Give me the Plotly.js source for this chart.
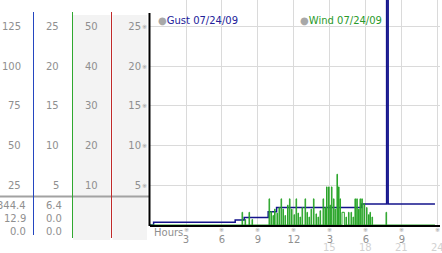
<!DOCTYPE html>
<html><head><meta charset="utf-8">
<script src="https://cdn.plot.ly/plotly-3.0.1.min.js"></script>
<style>html,body{margin:0;padding:0;background:#fff;}</style>
</head><body><div id="chart" style="width:442px;height:253px;"></div>
<script>
// ---- data ----
const gustName = 'Gust 07/24/09';
const windName = 'Wind 07/24/09';
const gustHours  = [0, 0.3, 7.1, 7.85, 9.85, 10.55, 17.65, 19.72, 19.85, 23.75];
const gustValues = [0, 1.7, 3.1, 4.8, 8.4, 11.1, 13.2, 344.4, 13.2, 13.2];
const windHours = [0, 7.67,7.72, 7.92,7.97, 8.25,8.3, 8.5,8.55, 9.92,9.97, 10.08,10.13, 10.25,10.3, 10.38,10.43,
  10.58,10.63, 10.75,10.8, 10.92,10.97, 11.08,11.13, 11.25,11.3, 11.46,11.51, 11.62,11.67, 11.79,11.84,
  12.0,12.05, 12.17,12.22, 12.33,12.38, 12.5,12.55, 12.67,12.72, 12.92,12.97, 13.08,13.13, 13.25,13.3,
  13.42,13.47, 13.62,13.67, 13.83,13.88, 14.0,14.05, 14.17,14.22, 14.42,14.47, 14.58,14.63, 14.71,14.76,
  14.88,14.93, 15.0,15.05, 15.12,15.17, 15.29,15.34, 15.42,15.47, 15.58,15.63, 15.71,15.76, 15.83,15.88,
  16.0,16.2, 16.33,16.38, 16.54,16.59, 16.75,16.8, 16.92,16.97, 17.08,17.13, 17.23,17.28, 17.38,17.43,
  17.5,17.55, 17.65,17.7, 17.83,17.88, 18.04,18.09, 18.21,18.26, 18.33,18.38, 18.5,18.55, 19.67,19.72, 23.75];
const windValues = [0, 1.6,0, 0.7,0, 1.6,0, 0.7,0, 3.3,0, 1.7,0, 1.2,0, 2.0,0,
  1.5,0, 2.2,0, 3.3,0, 2.0,0, 1.2,0, 2.5,0, 3.3,0, 2.0,0,
  1.3,0, 3.3,0, 1.5,0, 1.0,0, 2.2,0, 3.3,0, 1.6,0, 1.0,0,
  2.0,0, 3.3,0, 1.4,0, 1.0,0, 1.8,0, 3.3,0, 2.2,0, 4.8,0,
  4.8,0, 2.5,0, 4.8,0, 3.3,0, 2.0,0, 6.4,0, 4.8,0, 3.3,0,
  1.6,0, 1.0,0, 1.6,0, 1.6,0, 1.0,0, 3.3,0, 3.3,0, 2.0,0,
  3.3,0, 3.3,0, 2.7,0, 2.2,0, 1.3,0, 1.6,0, 1.0,0, 1.6,0, 0];
const hourTicks    = [3, 6, 9, 12, 15, 18, 21, 24];
const hourLabels   = ['3', '6', '9', '12', '3', '6', '9', '12'];
const hourLabels24 = ['', '', '', '', '15', '18', '21', '24'];
const gustTicks  = [25, 50, 75, 100, 125];
const windTicks  = [5, 10, 15, 20, 25];
const thirdTicks = [10, 20, 30, 40, 50];
const gustStats = ['344.4', '12.9', '0.0'];
const windStats = ['6.4', '0.0', '0.0'];

// ---- layout helpers (pixel -> paper) ----
const W = 442, H = 253;
const px = v => v / W;
const py = v => (H - v) / H;
const GRID = '#dadada', LBL = '#8f8f8f', FONT = 'DejaVu Sans';
const GUST_MAX = 141.8;

const traces = [
  {x: windHours, y: windValues, yaxis: 'y2', type: 'scatter', mode: 'lines',
   line: {color: '#2aa52a', width: 1, shape: 'hv'}, name: windName, hoverinfo: 'skip'},
  {x: gustHours, y: gustValues, yaxis: 'y', type: 'scatter', mode: 'lines',
   line: {color: '#14148c', width: 1.5, shape: 'hv'}, name: gustName, hoverinfo: 'skip'},
  // empty traces so that the scale axes of the left columns exist
  {x: [], y: [], yaxis: 'y3', type: 'scatter', mode: 'lines', hoverinfo: 'skip'},
  {x: [], y: [], yaxis: 'y4', type: 'scatter', mode: 'lines', hoverinfo: 'skip'},
  {x: [], y: [], yaxis: 'y5', type: 'scatter', mode: 'lines', hoverinfo: 'skip'}
];

const sideAxis = (max) => ({
  overlaying: 'y', anchor: 'free', position: 0, side: 'left', range: [0, max],
  showticklabels: false, showgrid: false, zeroline: false, showline: false, ticks: ''
});

const annotations = [];
// scale columns on the left, placed through their own axes
const columns = [
  {ref: 'y3', vals: gustTicks, right: 22.5},
  {ref: 'y4', vals: windTicks, right: 61},
  {ref: 'y5', vals: thirdTicks, right: 100}
];
columns.forEach(c => c.vals.forEach(v => annotations.push({xref: 'paper', yref: c.ref,
  x: px(c.right), y: v, text: String(v), showarrow: false,
  font: {family: FONT, size: 10, color: LBL}, xanchor: 'right', yanchor: 'middle'})));
hourTicks.forEach((h, i) => {
  annotations.push({xref: 'x', yref: 'paper', x: h, y: py(229.5), text: '※', showarrow: false,
    font: {family: FONT, size: 6, color: '#9a9a9a'}, xanchor: 'center', yanchor: 'middle'});
  if (hourLabels24[i]) annotations.push({xref: 'x', yref: 'paper', x: h, y: py(247.5), text: hourLabels24[i],
    showarrow: false, font: {family: FONT, size: 10, color: '#d2d2d2'}, xanchor: 'center', yanchor: 'middle'});
});
windTicks.forEach(v => annotations.push({xref: 'paper', yref: 'y2', x: px(144.5), y: v, text: '※',
  showarrow: false, font: {family: FONT, size: 6, color: '#9a9a9a'}, xanchor: 'center', yanchor: 'middle'}));
const statRows = [205, 218.3, 231.7];
gustStats.forEach((s, i) => annotations.push({xref: 'paper', yref: 'paper', x: px(28), y: py(statRows[i]), text: s,
  showarrow: false, font: {family: FONT, size: 10, color: LBL}, xanchor: 'right', yanchor: 'middle'}));
windStats.forEach((s, i) => annotations.push({xref: 'paper', yref: 'paper', x: px(64), y: py(statRows[i]), text: s,
  showarrow: false, font: {family: FONT, size: 10, color: LBL}, xanchor: 'right', yanchor: 'middle'}));
annotations.push({xref: 'paper', yref: 'paper', x: px(152), y: py(232), text: 'Hours', showarrow: false,
  font: {family: FONT, size: 10, color: LBL}, xanchor: 'left', yanchor: 'middle'});
annotations.push({xref: 'paper', yref: 'paper', x: px(156), y: py(20.5),
  text: '<span style="color:#a8a8a8">●</span>' + gustName, showarrow: false,
  font: {family: FONT, size: 10, color: '#22229a'}, xanchor: 'left', yanchor: 'middle'});
annotations.push({xref: 'paper', yref: 'paper', x: px(298), y: py(20.5),
  text: '<span style="color:#a8a8a8">●</span>' + windName, showarrow: false,
  font: {family: FONT, size: 10, color: '#2a9a2a'}, xanchor: 'left', yanchor: 'middle'});

const vline = (x, y0, y1, color, w) => ({type: 'line', xref: 'paper', yref: 'paper',
  x0: px(x), x1: px(x), y0: py(y0), y1: py(y1), line: {color: color, width: w}, layer: 'above'});
const shapes = [
  {type: 'rect', xref: 'paper', yref: 'paper', x0: px(73), x1: px(110.5), y0: py(15), y1: py(240),
   fillcolor: '#f3f3f3', line: {width: 0}, layer: 'below'},
  {type: 'rect', xref: 'paper', yref: 'paper', x0: px(112.5), x1: px(147), y0: py(15), y1: py(240),
   fillcolor: '#f3f3f3', line: {width: 0}, layer: 'below'},
  {type: 'rect', xref: 'paper', yref: 'paper', x0: px(150), x1: px(441), y0: py(0), y1: py(25.5),
   fillcolor: '#ffffff', line: {width: 0}, layer: 'between'},
  {type: 'line', xref: 'paper', yref: 'paper', x0: 0, x1: px(149), y0: py(196.5), y1: py(196.5),
   line: {color: '#a2a2a2', width: 2}, layer: 'above'},
  vline(33.5, 12, 235, '#2446c0', 1),
  vline(72.5, 12, 238, '#30a830', 1),
  vline(111.5, 12, 238, '#c02a2a', 1),
  vline(149.5, 13, 226, '#000000', 2)
];

const layout = {
  width: W, height: H, margin: {l: 0, r: 0, t: 0, b: 0},
  paper_bgcolor: '#ffffff', plot_bgcolor: 'rgba(0,0,0,0)', showlegend: false,
  font: {family: FONT, size: 10, color: LBL},
  xaxis: {domain: [px(150), px(440)], range: [0, 24.17], tickmode: 'array', tickvals: hourTicks,
    ticktext: hourLabels, showgrid: true, gridcolor: GRID, gridwidth: 1, zeroline: false,
    showline: true, linecolor: '#000', linewidth: 2, ticks: '', ticklabelstandoff: 4,
    tickfont: {family: FONT, size: 10, color: LBL}},
  yaxis: {domain: [py(225), 1], range: [0, GUST_MAX], tickmode: 'array', tickvals: gustTicks,
    showticklabels: false, showgrid: true, gridcolor: GRID, zeroline: false, showline: false, ticks: ''},
  yaxis2: {overlaying: 'y', anchor: 'x', side: 'left', range: [0, GUST_MAX / 5], tickmode: 'array',
    tickvals: windTicks, ticktext: windTicks.map(String), showgrid: false, zeroline: false,
    showline: false, ticks: '', ticklabelstandoff: 8, tickfont: {family: FONT, size: 10, color: LBL}},
  yaxis3: sideAxis(GUST_MAX),
  yaxis4: sideAxis(GUST_MAX / 5),
  yaxis5: sideAxis(GUST_MAX * 0.4),
  annotations: annotations, shapes: shapes
};

Plotly.newPlot('chart', traces, layout, {staticPlot: true, displayModeBar: false});
</script></body></html>
